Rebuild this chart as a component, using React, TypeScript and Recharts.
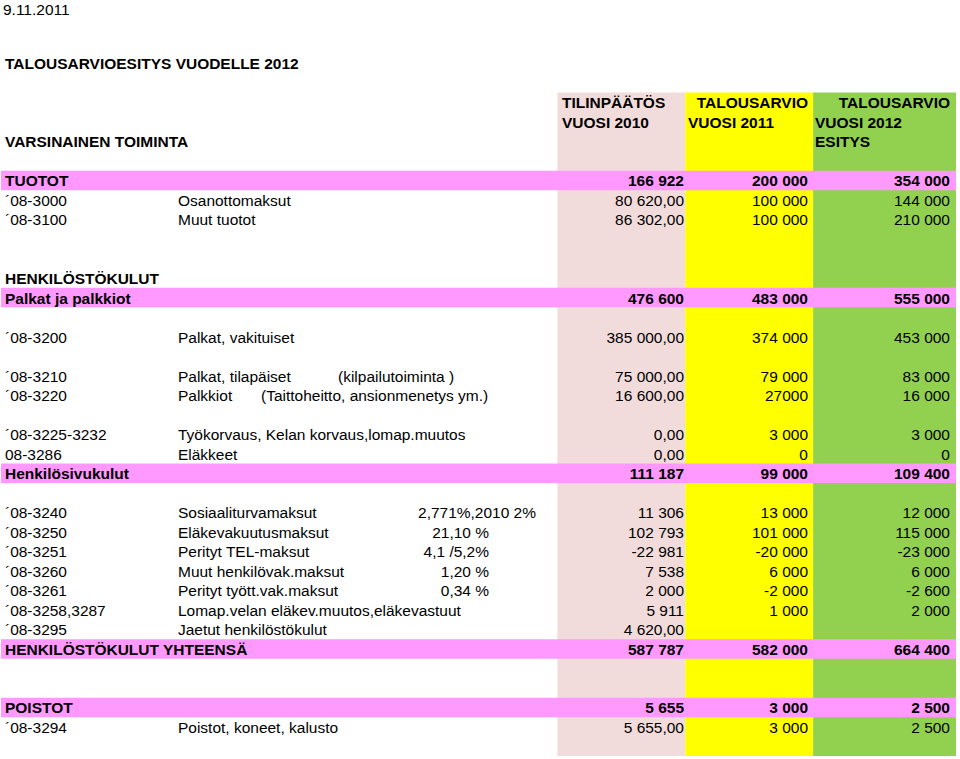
import { BarChart, Bar, XAxis, YAxis, ReferenceArea } from "recharts";

// one entry per spreadsheet row, top to bottom
const codes = [
  "9.11.2011", "", "", "TALOUSARVIOESITYS VUODELLE 2012", "", "", "", "VARSINAINEN TOIMINTA", "",
  "TUOTOT", "´08-3000", "´08-3100", "", "", "HENKILÖSTÖKULUT", "Palkat ja palkkiot", "",
  "´08-3200", "", "´08-3210", "´08-3220", "", "´08-3225-3232", "08-3286", "Henkilösivukulut", "",
  "´08-3240", "´08-3250", "´08-3251", "´08-3260", "´08-3261", "´08-3258,3287", "´08-3295",
  "HENKILÖSTÖKULUT YHTEENSÄ", "", "", "POISTOT", "´08-3294", "",
];

const names = [
  "", "", "", "", "", "", "", "", "",
  "", "Osanottomaksut", "Muut tuotot", "", "", "", "", "",
  "Palkat, vakituiset", "", "Palkat, tilapäiset", "Palkkiot", "", "Työkorvaus, Kelan korvaus,lomap.muutos", "Eläkkeet", "", "",
  "Sosiaaliturvamaksut", "Eläkevakuutusmaksut", "Perityt TEL-maksut", "Muut henkilövak.maksut", "Perityt tyött.vak.maksut",
  "Lomap.velan eläkev.muutos,eläkevastuut", "Jaetut henkilöstökulut",
  "", "", "", "", "Poistot, koneet, kalusto", "",
];

const notes: Record<number, string> = {
  19: "(kilpailutoiminta )",
  20: "(Taittoheitto, ansionmenetys ym.)",
  26: "2,771%,2010 2%",
  27: "21,10 %",
  28: "4,1 /5,2%",
  29: "1,20 %",
  30: "0,34 %",
};

const v2010 = [
  "", "", "", "", "", "TILINPÄÄTÖS", "VUOSI 2010", "", "",
  "166 922", "80 620,00", "86 302,00", "", "", "", "476 600", "",
  "385 000,00", "", "75 000,00", "16 600,00", "", "0,00", "0,00", "111 187", "",
  "11 306", "102 793", "-22 981", "7 538", "2 000", "5 911", "4 620,00",
  "587 787", "", "", "5 655", "5 655,00", "",
];

const v2011 = [
  "", "", "", "", "", "TALOUSARVIO", "VUOSI 2011", "", "",
  "200 000", "100 000", "100 000", "", "", "", "483 000", "",
  "374 000", "", "79 000", "27000", "", "3 000", "0", "99 000", "",
  "13 000", "101 000", "-20 000", "6 000", "-2 000", "1 000", "",
  "582 000", "", "", "3 000", "3 000", "",
];

const v2012 = [
  "", "", "", "", "", "TALOUSARVIO", "VUOSI 2012", "ESITYS", "",
  "354 000", "144 000", "210 000", "", "", "", "555 000", "",
  "453 000", "", "83 000", "16 000", "", "3 000", "0", "109 400", "",
  "12 000", "115 000", "-23 000", "6 000", "-2 600", "2 000", "",
  "664 400", "", "", "2 500", "2 500", "",
];

const boldRows = [3, 5, 6, 7, 9, 14, 15, 24, 33, 36];
const highlightRows = [9, 15, 24, 33, 36];

const ROW_H = 19.52;
const FONT = "'Liberation Sans', Arial, sans-serif";

const rows = codes.map((_, i) => ({ row: `r${i}` }));

// x layout of the sheet columns
const COL = [
  { left: 562, right: 684, band: [557, 685], fill: "#F2DCDB", values: v2010, head: ["start", "start", "start"] },
  { left: 688, right: 808, band: [685, 813], fill: "#FFFF00", values: v2011, head: ["end", "start", "start"] },
  { left: 815, right: 950, band: [813, 956], fill: "#92D050", values: v2012, head: ["end", "start", "start"] },
];

const NOTE_POS: Record<number, [number, "start" | "end"]> = {
  19: [338, "start"],
  20: [261, "start"],
  26: [536, "end"],
  27: [489, "end"],
  28: [489, "end"],
  29: [489, "end"],
  30: [489, "end"],
};

function RowTick(props: any) {
  const { y, payload } = props;
  const i = Number(String(payload.value).slice(1));
  const bold = boldRows.includes(i);
  // first row sits at the page edge, keep it inside
  const base = y + (i === 0 ? 9.8 : 6);
  const common = { fontFamily: FONT, fontSize: 15.5, fill: "#000" };
  return (
    <g>
      {codes[i] && (
        <text x={i === 0 ? 3 : 5} y={base} {...common} fontWeight={bold ? 700 : 400}>
          {codes[i]}
        </text>
      )}
      {names[i] && (
        <text x={178} y={base} {...common}>
          {names[i]}
        </text>
      )}
      {notes[i] && (
        <text x={NOTE_POS[i][0]} y={base} textAnchor={NOTE_POS[i][1]} {...common}>
          {notes[i]}
        </text>
      )}
      {COL.map((c, k) => {
        const t = c.values[i];
        if (!t) return null;
        const isHead = i >= 5 && i <= 7;
        const anchor = isHead ? c.head[i - 5] : "end";
        return (
          <text
            key={k}
            x={anchor === "start" ? c.left : c.right}
            y={base}
            textAnchor={anchor}
            {...common}
            fontWeight={bold ? 700 : 400}
          >
            {t}
          </text>
        );
      })}
    </g>
  );
}

export default function App() {
  const height = rows.length * ROW_H;
  return (
    <div style={{ position: "absolute", top: -5.26, left: 0, width: 960, height }}>
      <BarChart
        width={960}
        height={height}
        data={rows}
        layout="vertical"
        margin={{ top: 0, right: 0, bottom: 0, left: 0 }}
        barCategoryGap={0}
      >
        <XAxis type="number" domain={[0, 960]} hide allowDataOverflow />
        <YAxis
          type="category"
          dataKey="row"
          width={1}
          interval={0}
          axisLine={false}
          tickLine={false}
          tick={(p: any) => <RowTick {...p} />}
        />
        {COL.map((c) => (
          <ReferenceArea
            key={c.fill}
            x1={c.band[0]}
            x2={c.band[1]}
            y1="r5"
            y2={`r${rows.length - 1}`}
            fill={c.fill}
            fillOpacity={1}
            stroke="none"
            ifOverflow="visible"
          />
        ))}
        {highlightRows.map((r) => (
          <ReferenceArea
            key={r}
            x1={0}
            x2={956}
            y1={`r${r}`}
            y2={`r${r}`}
            fill="#FF99FF"
            fillOpacity={1}
            stroke="none"
            ifOverflow="visible"
          />
        ))}
        <Bar dataKey="none" isAnimationActive={false} />
      </BarChart>
    </div>
  );
}
